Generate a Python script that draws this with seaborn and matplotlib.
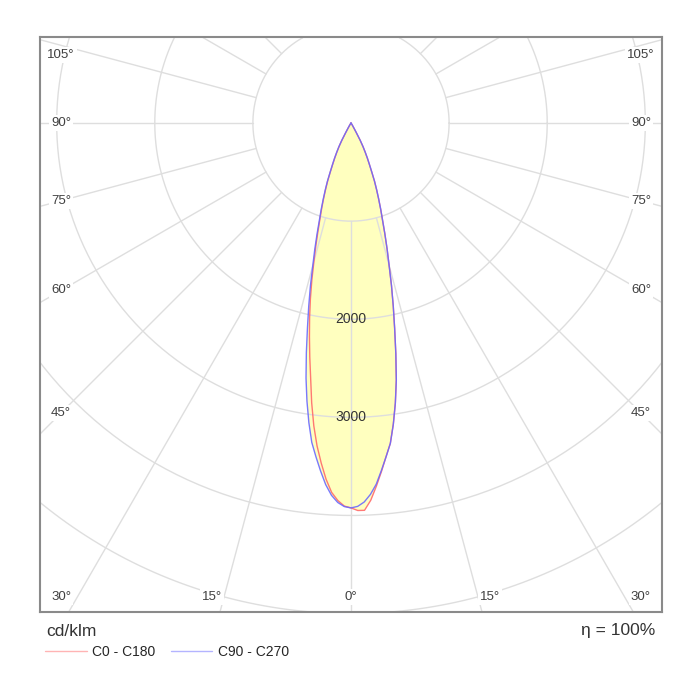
import numpy as np
import pandas as pd
import seaborn as sns
import matplotlib.pyplot as plt

# gamma angles (deg from nadir) and intensities in cd/klm
angles = [0, 1, 2, 3, 4, 5, 6, 7, 8, 9, 10, 11, 12, 13, 14, 15, 16, 17, 18, 19, 20,
          21, 22, 23, 24, 25, 26, 27, 28, 29, 30, 32, 35, 40, 45, 50, 60, 70, 80, 90]
c0 = [3923, 3950, 3950, 3850, 3710, 3565, 3420, 3290, 3100, 2890, 2660, 2395, 2140, 1915,
      1705, 1500, 1335, 1180, 1040, 930, 825, 730, 640, 540, 460, 395, 330, 270, 200, 110,
      60, 25, 10, 3, 0, 0, 0, 0, 0, 0]
c180 = [3923, 3905, 3850, 3770, 3640, 3480, 3310, 3110, 2880, 2630, 2420, 2220, 2030, 1840,
        1650, 1460, 1300, 1150, 1020, 915, 815, 720, 632, 535, 455, 390, 326, 266, 196, 108,
        58, 24, 10, 3, 0, 0, 0, 0, 0, 0]
c90 = [3923, 3908, 3865, 3790, 3690, 3555, 3420, 3290, 3100, 2890, 2660, 2395, 2140, 1915,
       1705, 1500, 1335, 1180, 1040, 930, 825, 730, 640, 540, 460, 395, 330, 270, 200, 110,
       60, 25, 10, 3, 0, 0, 0, 0, 0, 0]
c270 = [3923, 3910, 3870, 3800, 3695, 3560, 3420, 3280, 3085, 2870, 2640, 2385, 2135, 1915,
        1710, 1505, 1340, 1185, 1045, 935, 830, 735, 645, 545, 465, 400, 335, 275, 205, 115,
        62, 26, 10, 3, 0, 0, 0, 0, 0, 0]

series_names = ["C0 - C180", "C90 - C270"]
ring_values = [1000, 2000, 3000, 4000, 5000, 6000]
ring_labels = [2000, 3000]
side_label_angles = [45, 60, 75, 90, 105]
bottom_label_angles = [0, 15, 30]
efficiency = "η = 100%"
unit = "cd/klm"


def half_plane(values_left, values_right, name):
    # left half goes 90 -> 0, right half 0 -> 90
    a_left = np.radians(angles[::-1])
    r_left = np.array(values_left[::-1], dtype=float)
    a_right = np.radians(angles[1:])
    r_right = np.array(values_right[1:], dtype=float)
    x = np.concatenate([-r_left * np.sin(a_left), r_right * np.sin(a_right)])
    y = np.concatenate([-r_left * np.cos(a_left), -r_right * np.cos(a_right)])
    return pd.DataFrame({"x": x, "y": y, "series": name})


df = pd.concat([
    half_plane(c180, c0, series_names[0]),
    half_plane(c270, c90, series_names[1]),
], ignore_index=True)

sns.set_style("white")
plt.rcParams["font.family"] = ["Liberation Sans", "DejaVu Sans"]

fig = plt.figure(figsize=(7, 7), dpi=100)
ax = fig.add_axes([40 / 700, 88 / 700, 622 / 700, 575 / 700])

xmax = 3170
ytop = 877
ybot = -4984
ax.set_xlim(-xmax, xmax)
ax.set_ylim(ybot, ytop)

# fill under the curves
for name in series_names:
    d = df[df["series"] == name]
    ax.fill(d["x"], d["y"], color="#ffffbf", zorder=1, lw=0)

# polar grid
grid_col = "#dedede"
t = np.linspace(0, 2 * np.pi, 400)
for rv in ring_values:
    ax.plot(rv * np.cos(t), rv * np.sin(t), color=grid_col, lw=1, zorder=2)
for a in range(0, 360, 15):
    ar = np.radians(a)
    ax.plot([1000 * np.sin(ar), 8000 * np.sin(ar)], [-1000 * np.cos(ar), -8000 * np.cos(ar)],
            color=grid_col, lw=1, zorder=2)

palette = {series_names[0]: "#ff6a6a", series_names[1]: "#6a6aff"}
sns.lineplot(data=df, x="x", y="y", hue="series", palette=palette, sort=False,
             estimator=None, units="series", lw=1.0, alpha=0.9, ax=ax, zorder=3)

# ring labels on the 0 axis
for rv in ring_labels:
    ax.text(0, -rv, str(rv), ha="center", va="center", fontsize=10, color="#333333", zorder=4)

# angle labels
txt_col = "#404040"
box = dict(boxstyle="square,pad=0.15", fc="white", ec="none")
side_x = xmax - 215
for a in side_label_angles:
    y = -side_x / np.tan(np.radians(a)) if a != 90 else 0
    y = min(y, ytop - 180)
    for s in (-1, 1):
        ax.text(s * side_x, y, f"{a}°", ha="center", va="center", fontsize=9.5,
                color=txt_col, zorder=4, bbox=box)
bottom_y = ybot + 150
for a in bottom_label_angles:
    xb = -ybot * np.tan(np.radians(a))
    if a != 0:
        xb = min(xb + 80, side_x)
    for s in ((1,) if a == 0 else (-1, 1)):
        ax.text(s * xb, bottom_y, f"{a}°", ha="center", va="center", fontsize=9.5,
                color=txt_col, zorder=4, bbox=box)

ax.set_xticks([])
ax.set_yticks([])
ax.set_xlabel("")
ax.set_ylabel("")
for sp in ax.spines.values():
    sp.set_color("#8a8a8a")
    sp.set_linewidth(1.5)

sns.move_legend(ax, "center left", bbox_to_anchor=(45 / 700, 1 - 652 / 700),
                bbox_transform=fig.transFigure, ncol=2, frameon=False, title=None,
                fontsize=10, handlelength=3.0, handletextpad=0.4, columnspacing=1.1,
                borderpad=0, borderaxespad=0)
for h in ax.get_legend().get_lines():
    h.set_alpha(0.5)

fig.text(46 / 700, 1 - 632 / 700, unit, ha="left", va="center", fontsize=12.5, color="#333333")
fig.text(655 / 700, 1 - 630 / 700, efficiency, ha="right", va="center", fontsize=12.5, color="#333333")

fig.savefig("out.png", dpi=100)
